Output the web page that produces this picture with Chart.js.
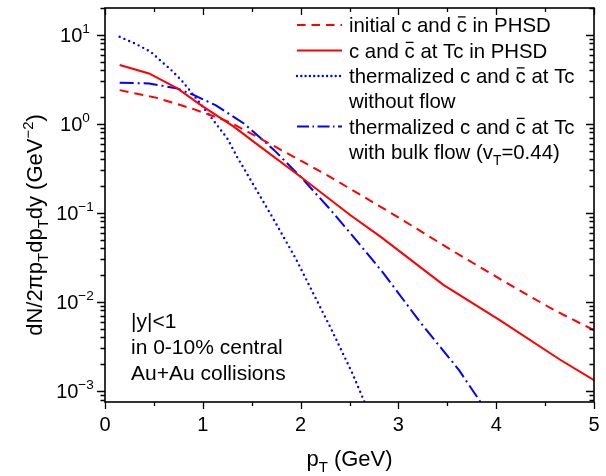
<!DOCTYPE html>
<html>
<head>
<meta charset="utf-8">
<script src="https://cdn.jsdelivr.net/npm/chart.js@4.4.1/dist/chart.umd.min.js"></script>
<style>
  html, body { margin: 0; padding: 0; background: #fff; }
  #wrap { width: 606px; height: 476px; }
</style>
</head>
<body>
<div id="wrap"><canvas id="c" width="606" height="476"></canvas></div>
<script>
// Charm quark pT spectra, |y|<1, 0-10% central Au+Au

// initial c and cbar in PHSD
const initialPt  = [0.15, 0.52, 0.90, 1.27, 1.56, 1.93, 2.27, 2.61, 3.02, 3.56, 4.06, 4.59, 5.0];
const initialVal = [2.39, 1.97, 1.47, 1.05, 0.709, 0.426, 0.265, 0.160, 0.0861, 0.0371, 0.0175, 0.0081, 0.0048];

// c and cbar at Tc in PHSD
const tcPt  = [0.15, 0.45, 0.74, 0.98, 1.32, 1.59, 2.0, 2.51, 2.82, 3.46, 4.04, 4.65, 5.0];
const tcVal = [4.57, 3.68, 2.50, 1.62, 0.925, 0.551, 0.254, 0.094, 0.0537, 0.0155, 0.0062, 0.00225, 0.00132];

// thermalized at Tc, no flow
const thermPt  = [0.15, 0.32, 0.47, 0.57, 0.67, 0.78, 0.86, 0.96, 1.08, 1.25, 1.35, 1.47, 1.71, 1.95, 2.31, 2.53, 2.66];
const thermVal = [9.5, 7.86, 6.4, 5.1, 4.09, 3.10, 2.42, 1.77, 1.2, 0.686, 0.426, 0.254, 0.090, 0.0307, 0.00503, 0.00157, 0.00072];

// thermalized at Tc with bulk flow (vT = 0.44)
const flowPt  = [0.15, 0.45, 0.74, 0.91, 1.13, 1.42, 1.73, 2.0, 2.31, 2.54, 2.85, 3.22, 3.62, 3.85];
const flowVal = [2.89, 2.84, 2.50, 2.10, 1.62, 1.01, 0.506, 0.254, 0.107, 0.0537, 0.0208, 0.00596, 0.00171, 0.00072];

const xMajorTicks = [0, 1, 2, 3, 4, 5];
const yDecades = [-3, -2, -1, 0, 1];

const legendLabels = [
  [['initial c and '], ['c', 'bar'], [' in PHSD']],
  [['c and '], ['c', 'bar'], [' at Tc in PHSD']],
  [['thermalized c and '], ['c', 'bar'], [' at Tc']],
  [['without flow']],
  [['thermalized c and '], ['c', 'bar'], [' at Tc']],
  [['with bulk flow (v'], ['T', 'sub'], ['=0.44)']]
];
const noteLines = ['|y|<1', 'in 0-10% central', 'Au+Au collisions'];

const RED = '#ff0000';
const BLUE = '#0000ff';
const FONT = "'Liberation Sans', Arial, sans-serif";

const pts = (xs, ys) => xs.map((x, i) => ({ x: x, y: ys[i] }));

// rich text: parts are [text, kind] with kind '' | 'sub' | 'sup' | 'bar'
function richWidth(ctx, parts, size) {
  let w = 0;
  for (const [t, k] of parts) {
    const s = (k === 'sub' || k === 'sup') ? size * 0.68 : size;
    ctx.font = s + 'px ' + FONT;
    w += ctx.measureText(t).width;
  }
  return w;
}
function drawRich(ctx, x, y, parts, size) {
  let cx = x;
  for (const [t, k] of parts) {
    const s = (k === 'sub' || k === 'sup') ? size * 0.68 : size;
    ctx.font = s + 'px ' + FONT;
    let dy = 0;
    if (k === 'sub') dy = size * 0.28;
    if (k === 'sup') dy = -size * 0.42;
    ctx.fillText(t, cx, y + dy);
    const w = ctx.measureText(t).width;
    if (k === 'bar') {
      ctx.save();
      ctx.lineWidth = 1.3;
      ctx.beginPath();
      ctx.moveTo(cx + w * 0.12, y - size * 0.74);
      ctx.lineTo(cx + w * 0.88, y - size * 0.74);
      ctx.stroke();
      ctx.restore();
    }
    cx += w;
  }
  return cx - x;
}

const framePlugin = {
  id: 'frame',
  afterDatasetsDraw(chart) {
    const ctx = chart.ctx;
    const a = chart.chartArea;
    const xs = chart.scales.x, ys = chart.scales.y;
    ctx.save();
    ctx.strokeStyle = '#000';
    ctx.fillStyle = '#000';
    ctx.lineWidth = 1.6;
    ctx.strokeRect(a.left, a.top, a.right - a.left, a.bottom - a.top);

    // x ticks: bottom outward, top inward
    ctx.lineWidth = 1.3;
    for (let v = 0; v <= 5.0001; v += 0.5) {
      const px = Math.round(xs.getPixelForValue(v)) + 0.5;
      const major = Math.abs(v - Math.round(v)) < 1e-6;
      const len = major ? 7 : 4;
      ctx.beginPath();
      ctx.moveTo(px, a.bottom); ctx.lineTo(px, a.bottom + len);
      ctx.moveTo(px, a.top); ctx.lineTo(px, a.top + len);
      ctx.stroke();
    }
    // y ticks: left outward, right inward
    for (let d = -4; d <= 1; d++) {
      for (let m = 1; m <= 9; m++) {
        const v = m * Math.pow(10, d);
        if (v < ys.min || v > ys.max) continue;
        const py = Math.round(ys.getPixelForValue(v)) + 0.5;
        const len = m === 1 ? 8 : 4.5;
        ctx.beginPath();
        ctx.moveTo(a.left, py); ctx.lineTo(a.left - len, py);
        ctx.moveTo(a.right, py); ctx.lineTo(a.right - len, py);
        ctx.stroke();
      }
    }

    // x tick labels
    ctx.font = '20px ' + FONT;
    ctx.textAlign = 'center';
    ctx.textBaseline = 'alphabetic';
    for (const v of xMajorTicks) {
      ctx.fillText(String(v), xs.getPixelForValue(v), a.bottom + 29);
    }
    // y tick labels 10^n
    ctx.textAlign = 'left';
    for (const d of yDecades) {
      const py = ys.getPixelForValue(Math.pow(10, d));
      const parts = [['10'], [String(d).replace('-', '\u2212'), 'sup']];
      const w = richWidth(ctx, parts, 20);
      drawRich(ctx, 75 - w / 2, py + 7, parts, 20);
    }

    // axis titles
    const xt = [['p'], ['T', 'sub'], [' (GeV)']];
    const xw = richWidth(ctx, xt, 22);
    drawRich(ctx, (a.left + a.right) / 2 - xw / 2, 466, xt, 22);

    const yt = [['dN/2\u03c0p'], ['T', 'sub'], ['dp'], ['T', 'sub'], ['dy (GeV'], ['\u22122', 'sup'], [')']];
    const yw = richWidth(ctx, yt, 22);
    ctx.save();
    ctx.translate(42, 225);
    ctx.rotate(-Math.PI / 2);
    drawRich(ctx, -yw / 2, 0, yt, 22);
    ctx.restore();

    // legend
    const rowY = [25, 50.5, 76, 101, 126.5, 152];
    const styles = [
      { c: RED, dash: [8.5, 6], cap: 'butt', w: 2 },
      { c: RED, dash: [], cap: 'butt', w: 2 },
      { c: BLUE, dash: [0, 4.3], cap: 'round', w: 2.4 },
      null,
      { c: BLUE, dash: [12, 3.5, 1.5, 3.5], cap: 'butt', w: 2 }
    ];
    for (let i = 0; i < legendLabels.length; i++) {
      const st = styles[i];
      if (st) {
        ctx.save();
        ctx.strokeStyle = st.c;
        ctx.lineWidth = st.w;
        ctx.lineCap = st.cap;
        ctx.setLineDash(st.dash);
        ctx.beginPath();
        ctx.moveTo(297, rowY[i]); ctx.lineTo(342, rowY[i]);
        ctx.stroke();
        ctx.restore();
      }
      ctx.fillStyle = '#000';
      ctx.strokeStyle = '#000';
      drawRich(ctx, 349, rowY[i] + 7, legendLabels[i], 20.4);
    }

    // note text
    ctx.font = '21px ' + FONT;
    const noteY = [328, 354, 380];
    noteLines.forEach((t, i) => ctx.fillText(t, 131, noteY[i]));
    ctx.restore();
  }
};

new Chart(document.getElementById('c'), {
  type: 'line',
  data: {
    datasets: [
      { label: 'initial', data: pts(initialPt, initialVal), borderColor: RED, borderWidth: 2, borderDash: [9, 6] },
      { label: 'Tc', data: pts(tcPt, tcVal), borderColor: RED, borderWidth: 2 },
      { label: 'thermal', data: pts(thermPt, thermVal), borderColor: BLUE, borderWidth: 2.4, borderDash: [0, 5.2], borderCapStyle: 'round' },
      { label: 'flow', data: pts(flowPt, flowVal), borderColor: BLUE, borderWidth: 2, borderDash: [14, 4, 2, 4] }
    ]
  },
  options: {
    responsive: false,
    animation: false,
    devicePixelRatio: 1,
    layout: { padding: { left: 105, right: 12, top: 8, bottom: 74 } },
    elements: { point: { radius: 0 }, line: { tension: 0, fill: false } },
    datasets: { line: { clip: 0 } },
    plugins: { legend: { display: false }, tooltip: { enabled: false } },
    scales: {
      x: { type: 'linear', min: 0, max: 5, display: false },
      y: { type: 'logarithmic', min: 7.5e-4, max: 20, display: false }
    }
  },
  plugins: [framePlugin]
});
</script>
</body>
</html>
